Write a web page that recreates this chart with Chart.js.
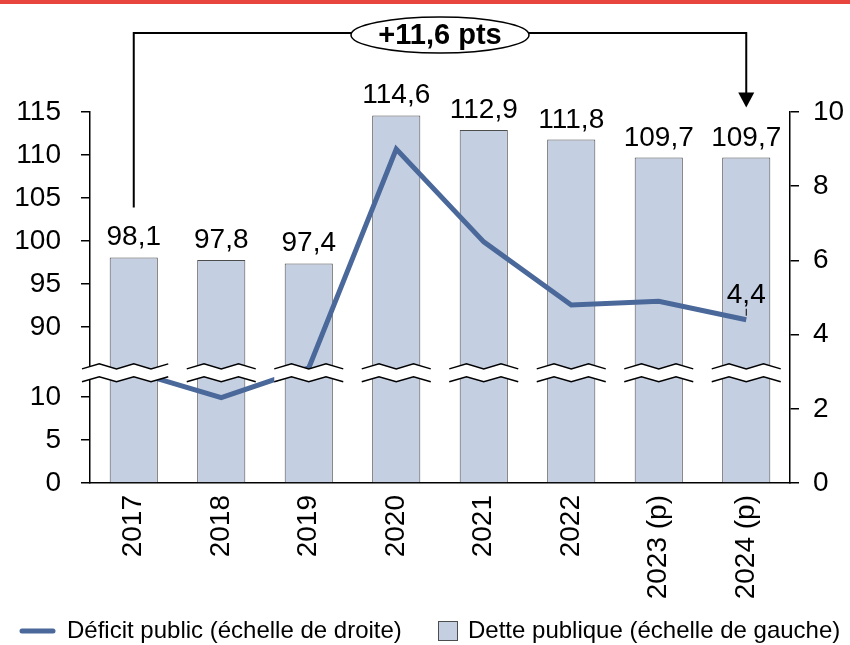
<!DOCTYPE html>
<html>
<head>
<meta charset="utf-8">
<script src="https://cdn.jsdelivr.net/npm/chart.js@4.4.1/dist/chart.umd.min.js"></script>
<style>
  body { margin: 0; background: #fff; }
  #wrap { width: 850px; height: 645px; }
</style>
</head>
<body>
<div id="wrap"><canvas id="debtChart" width="850" height="645"></canvas></div>
<script>
const categories = ['2017', '2018', '2019', '2020', '2021', '2022', '2023 (p)', '2024 (p)'];
const detteValues = [98.1, 97.8, 97.4, 114.6, 112.9, 111.8, 109.7, 109.7];
const deficitValues = [3.0, 2.3, 3.1, 9.0, 6.5, 4.8, 4.9, 4.4];
const leftTickLabels = [0, 5, 10, 90, 95, 100, 105, 110, 115];
const annotationText = '+11,6 pts';
const legendLine = 'Déficit public (échelle de droite)';
const legendBar = 'Dette publique (échelle de gauche)';

// broken left axis: 0-10 then jump to 90-115
const BREAK_LOW = 10, BREAK_HIGH = 90, BREAK_GAP = 8.1;
function toAxis(v) {
  return v <= BREAK_LOW ? v : v - BREAK_HIGH + BREAK_LOW + BREAK_GAP;
}
function fr(v) {
  return v.toFixed(1).replace('.', ',');
}

const FONT = "'Liberation Sans', Arial, sans-serif";
const barColor = '#c5cfe2';
const lineColor = '#4a6899';

function zigzag(x0, x1, y, n) {
  const pts = [];
  const step = (x1 - x0) / n;
  for (let k = 0; k <= n; k++) {
    pts.push([x0 + k * step, y + (k % 2 === 0 ? 2.5 : -2.5)]);
  }
  return pts;
}

const decorPlugin = {
  id: 'decor',
  afterDatasetsDraw(chart) {
    const ctx = chart.ctx;
    const x = chart.scales.x, yl = chart.scales.y;
    const yTop = yl.getPixelForValue(13.55);
    const yBot = yl.getPixelForValue(12.05);
    ctx.save();
    categories.forEach((c, i) => {
      const cx = x.getPixelForValue(i);
      const x0 = i === 0 ? yl.right - 8 : cx - 34.5;
      const x1 = cx + 34.5;
      const n = Math.max(4, Math.round((x1 - x0) / 17));
      const up = zigzag(x0, x1, yTop, n);
      const lo = zigzag(x0, x1, yBot, n);
      ctx.beginPath();
      up.forEach((p, k) => k ? ctx.lineTo(p[0], p[1]) : ctx.moveTo(p[0], p[1]));
      lo.slice().reverse().forEach(p => ctx.lineTo(p[0], p[1]));
      ctx.closePath();
      ctx.fillStyle = '#fff';
      ctx.fill();
      ctx.strokeStyle = '#000';
      ctx.lineWidth = 1.5;
      [up, lo].forEach(line => {
        ctx.beginPath();
        line.forEach((p, k) => k ? ctx.lineTo(p[0], p[1]) : ctx.moveTo(p[0], p[1]));
        ctx.stroke();
      });
    });

    // bar labels
    ctx.fillStyle = '#000';
    ctx.font = '28px ' + FONT;
    ctx.textAlign = 'center';
    ctx.textBaseline = 'alphabetic';
    const bars = chart.getDatasetMeta(1).data;
    bars.forEach((b, i) => {
      ctx.fillText(fr(detteValues[i]), b.x, b.y - 12);
    });

    // last deficit point label
    const pts = chart.getDatasetMeta(0).data;
    const last = pts[pts.length - 1];
    ctx.fillText(fr(deficitValues[deficitValues.length - 1]), last.x, last.y - 17);
    ctx.lineWidth = 1;
    ctx.beginPath();
    ctx.moveTo(last.x, last.y - 11);
    ctx.lineTo(last.x, last.y - 4);
    ctx.stroke();

    // bracket 2017 -> 2024
    const first = bars[0], end = bars[bars.length - 1];
    const yBr = 33;
    const mid = (first.x + end.x) / 2;
    ctx.lineWidth = 2;
    ctx.beginPath();
    ctx.moveTo(first.x, first.y - 50);
    ctx.lineTo(first.x, yBr);
    ctx.lineTo(end.x, yBr);
    ctx.lineTo(end.x, end.y - 64);
    ctx.stroke();
    ctx.beginPath();
    ctx.moveTo(end.x - 8, end.y - 65);
    ctx.lineTo(end.x + 8, end.y - 65);
    ctx.lineTo(end.x, end.y - 50);
    ctx.closePath();
    ctx.fill();

    ctx.beginPath();
    ctx.ellipse(mid, 35, 89, 18, 0, 0, Math.PI * 2);
    ctx.fillStyle = '#fff';
    ctx.fill();
    ctx.lineWidth = 1.5;
    ctx.stroke();
    ctx.fillStyle = '#000';
    ctx.font = 'bold 29px ' + FONT;
    ctx.textBaseline = 'middle';
    ctx.fillText(annotationText, mid, 36);
    ctx.restore();
  },
  afterDraw(chart) {
    const ctx = chart.ctx;
    ctx.save();
    ctx.fillStyle = '#e8453f';
    ctx.fillRect(0, 0, chart.width, 4);

    // legend
    const ly = 631;
    ctx.strokeStyle = lineColor;
    ctx.lineWidth = 5;
    ctx.lineCap = 'round';
    ctx.beginPath();
    ctx.moveTo(22, ly);
    ctx.lineTo(53, ly);
    ctx.stroke();
    ctx.fillStyle = '#000';
    ctx.font = '24px ' + FONT;
    ctx.textAlign = 'left';
    ctx.textBaseline = 'middle';
    ctx.fillText(legendLine, 67, ly);
    ctx.fillStyle = barColor;
    ctx.fillRect(438.5, 621.5, 19, 19);
    ctx.strokeStyle = '#4d4d4d';
    ctx.lineWidth = 1;
    ctx.strokeRect(438.5, 621.5, 19, 19);
    ctx.fillStyle = '#000';
    ctx.fillText(legendBar, 468, ly);
    ctx.restore();
  }
};

const ctx = document.getElementById('debtChart').getContext('2d');
new Chart(ctx, {
  type: 'bar',
  data: {
    labels: categories,
    datasets: [
      {
        type: 'line',
        label: legendLine,
        data: deficitValues,
        yAxisID: 'y2',
        borderColor: lineColor,
        borderWidth: 5,
        pointRadius: 0,
        tension: 0,
        order: 0
      },
      {
        type: 'bar',
        label: legendBar,
        data: detteValues.map(toAxis),
        yAxisID: 'y',
        backgroundColor: barColor,
        borderColor: '#4d4d4d',
        borderWidth: 1,
        barPercentage: 0.55,
        categoryPercentage: 1,
        order: 1
      }
    ]
  },
  options: {
    responsive: false,
    animation: false,
    layout: { padding: { top: 112, left: 0, right: 0, bottom: 0 } },
    plugins: { legend: { display: false }, tooltip: { enabled: false } },
    scales: {
      x: {
        grid: { display: false, drawTicks: false },
        border: { display: true, color: '#000', width: 1.5 },
        ticks: {
          color: '#000', font: { family: FONT, size: 28 },
          maxRotation: 90, minRotation: 90, padding: 12
        },
        afterFit(s) { s.height = 162; }
      },
      y: {
        position: 'left',
        min: 0,
        max: toAxis(115),
        grid: { drawOnChartArea: false, tickLength: 9, color: '#000', lineWidth: 1.5 },
        border: { color: '#000', width: 1.5 },
        afterBuildTicks(s) {
          s.ticks = leftTickLabels.map(v => ({ value: toAxis(v) }));
        },
        ticks: {
          color: '#000', font: { family: FONT, size: 28 }, padding: 20,
          callback: (v, i) => String(leftTickLabels[i])
        },
        afterFit(s) { s.width = 90; }
      },
      y2: {
        position: 'right',
        min: 0,
        max: 10,
        grid: { drawOnChartArea: false, tickLength: 9, color: '#000', lineWidth: 1.5 },
        border: { color: '#000', width: 1.5 },
        ticks: { stepSize: 2, color: '#000', font: { family: FONT, size: 28 }, padding: 14 },
        afterFit(s) { s.width = 60; }
      }
    }
  },
  plugins: [decorPlugin]
});
</script>
</body>
</html>
